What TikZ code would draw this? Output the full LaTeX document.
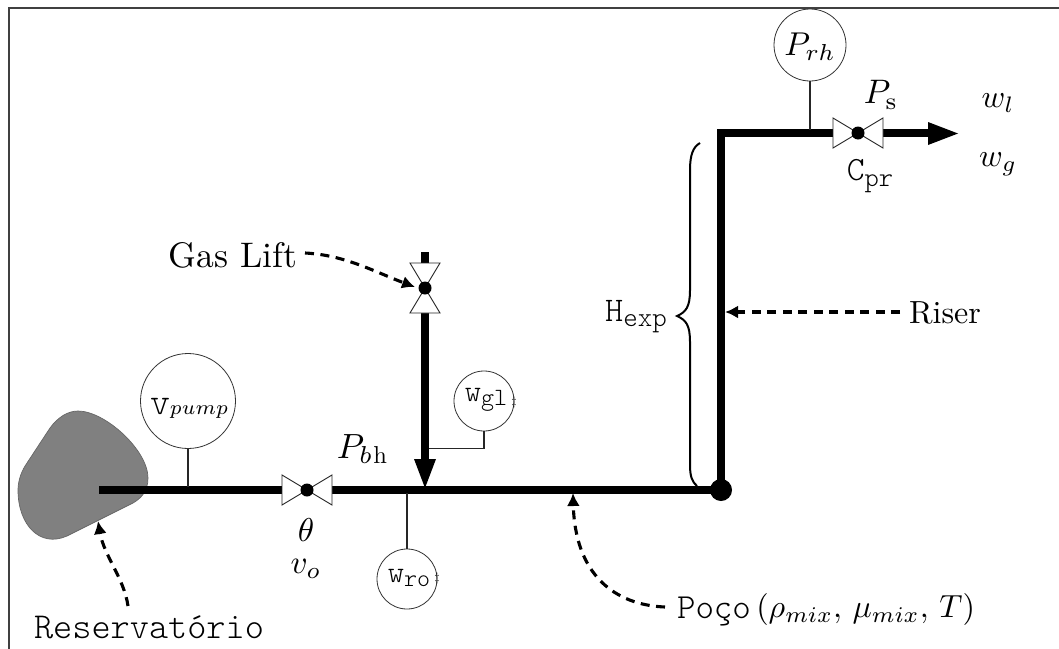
\documentclass[tikz,border=0pt]{standalone}
\usepackage{amsmath}
\usepackage{fontspec}
\setmonofont{Latin Modern Mono Light}
\usetikzlibrary{arrows.meta}
\newcommand\ttsub[3][.8]{\texttt{#2}\raisebox{-.35ex}{\scalebox{#1}{\texttt{#3}}}}
\tikzset{
 pipe/.style={line width=8pt},
 sensorline/.style={line width=1.1pt,black!85},
 sensor/.style={circle,draw=black!80,line width=0.8pt,inner sep=0pt,fill=white},
 dashedarrow/.style={line width=3.1pt,dash pattern=on 9pt off 6.5pt,-{Latex[length=13pt,width=13pt]}},
 valvetri/.style={draw=black!85,line width=0.9pt,fill=white},
 lab/.style={inner sep=0pt,anchor=center},
}
\begin{document}
\begin{tikzpicture}[x=1pt,y=-1pt]
\useasboundingbox (0,0) rectangle (1059,648);
\draw[line width=2pt,black!75] (8.5,654) -- (8.5,7.5) -- (1059,7.5);
% reservoir
\fill[fill=black!50,draw=black!60,line width=.7pt] (78,411) .. controls (105,411) and (148,450) .. (148,478)
 .. controls (148,492) and (140,499) .. (133,503) -- (67,536)
 .. controls (40,548) and (18,525) .. (18,490) .. controls (18,480) and (22,470) .. (27,463) -- (50,428)
 .. controls (58,417) and (68,411) .. (78,411) -- cycle;
% coordinates
\coordinate (wellstart) at (99,490);
\coordinate (junction) at (721,490);
\coordinate (riserTop) at (721,133);
\coordinate (outlet) at (958,133.5);
\coordinate (glTop) at (425,252);
\coordinate (glTip) at (425,488);
\coordinate (v1) at (307,490);
\coordinate (v2) at (425,288);
\coordinate (v3) at (858,133);
% pipes
\draw[pipe] (wellstart) -- (junction);
\draw[pipe,line cap=rect] (junction) -- (riserTop) -- (v3);
\draw[pipe] (v3) -- (930,133);
\fill (928,122) -- (outlet) -- (928,145) -- cycle;
\draw[pipe] (glTop) -- (425,462);
\fill (414,459) -- (glTip) -- (436,459) -- cycle;
\fill (junction) circle (11);
% valves
\draw[valvetri] (282,475) -- (332,505) -- (332,475) -- (282,505) -- cycle;
\fill (v1) circle (6.5);
\draw[valvetri] (410,263) -- (440,313) -- (410,313) -- (440,263) -- cycle;
\fill (v2) circle (6.5);
\draw[valvetri] (833,118) -- (883,148) -- (883,118) -- (833,148) -- cycle;
\fill (v3) circle (6.5);
% sensors
\node[sensor,minimum size=95pt] (vpump) at (188,401) {};
\node[lab,scale=3.8] (vpumpt) at (189,408) {\texttt{v}$\scalebox{.76}{$\scriptstyle pump$}$};
\draw[sensorline] (vpump.south) -- (188,487);
\node[sensor,minimum size=60pt] (wgl) at (484,401) {};
\node[lab,scale=3.1] (wglt) at (486,400) {\ttsub{w}{gl}};
\node[lab,scale=1.2] (wgld) at (514,402) {$\ddagger$};
\draw[sensorline] (wgl.south) -- (484,448.5) -- (429,448.5);
\node[sensor,minimum size=60pt] (wro) at (407,579) {};
\node[lab,scale=3.1] (wrot) at (409,578) {\ttsub{w}{ro}};
\node[lab,scale=1.2] (wrod) at (437,578) {$\ddagger$};
\draw[sensorline] (wro.north) -- (407,493);
\node[sensor,minimum size=72pt] (prh) at (810,45) {};
\node[lab,scale=3.3] (prht) at (810,47) {$P_{rh}$};
\draw[sensorline] (prh.south) -- (810,130);
% brace
\draw[line width=2pt] (700,143) .. controls (693,147) and (690,155) .. (690,170) -- (690,290)
 .. controls (690,307) and (686,312) .. (677,316) .. controls (686,320) and (690,325) .. (690,342) -- (690,465)
 .. controls (690,476) and (692,482) .. (697,486);
% labels
\node[lab,scale=3.55] (gas) at (233,255) {Gas Lift};
\node[lab,scale=3.2] (riser) at (945,313) {Riser};
\node[lab,scale=3.65] (res) at (149,627) {\texttt{Reservatório}};
\node[lab,scale=3.2] (poco) at (826,610) {\raisebox{-.1ex}{\scalebox{1.1}{\texttt{Poço}}}\,$(\rho_{mix},\,\mu_{mix},\,T)$};
\node[lab,scale=3.45] (hexp) at (636,317) {\ttsub{H}{exp}};
\node[lab,scale=3.5] (pbh) at (362,449) {$P_{b}$\raisebox{-.35ex}{\scalebox{.7}{h}}};
\node[lab,scale=3.4] (ps) at (881,95) {$P_{\mathrm{s}}$};
\node[lab,scale=3.4] (cpr) at (870,176) {\ttsub{C}{pr}};
\node[lab,scale=3.3] (theta) at (306,530) {$\theta$};
\node[lab,scale=3.3] (vo) at (306,569) {$v_o$};
\node[lab,scale=3.2] (wl) at (998,103) {$w_l$};
\node[lab,scale=3.2] (wg) at (998,164) {$w_g$};
% dashed arrows
\coordinate (a1) at (128,606); \coordinate (a1t) at (98,521);
\draw[dashedarrow] (a1) .. controls (124,578) and (104,556) .. (a1t);
\coordinate (a2) at (305,253); \coordinate (a2t) at (415,287);
\draw[dashedarrow] (a2) .. controls (345,255) and (375,272) .. (a2t);
\coordinate (a3) at (900,312); \coordinate (a3t) at (725,312);
\draw[dashedarrow] (a3) -- (a3t);
\coordinate (a4) at (665,607); \coordinate (a4t) at (573,493);
\draw[dashedarrow] (a4) .. controls (615,605) and (575,575) .. (a4t);
\end{tikzpicture}
\end{document}
